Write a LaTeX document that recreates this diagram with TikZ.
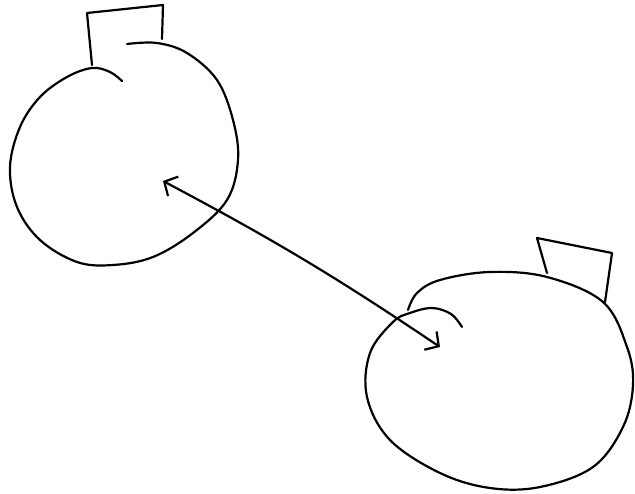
\documentclass[tikz,border=0pt]{standalone}
\usetikzlibrary{arrows.meta}
\begin{document}
\begin{tikzpicture}[x=1pt, y=-1pt, line width=2.2pt, line cap=round, line join=round,
  >={Straight Barb[length=10pt,width=22pt]}]
  \useasboundingbox (0,0) rectangle (635,494);
  % left jar
  \draw plot[smooth, tension=0.6] coordinates {(122,81) (110,72) (92,68) (67,77) (40,97) (20,127) (10,167) (17,207) (40,240) (77,262) (113,265) (153,257) (193,233) (227,200) (238,160) (233,120) (217,80) (187,53) (157,43) (127,44)};
  \draw (92,65) -- (87,13) -- (163,5) -- (162,39);
  % right jar
  \draw plot[smooth, tension=0.6] coordinates {(408,310) (417,293) (440,280) (490,272) (547,277) (603,302) (627,347) (633,385) (623,427) (593,467) (540,487) (490,488) (440,473) (390,440) (367,397) (370,353) (393,322) (410,313) (432,308) (451,314) (462,327)};
  \draw (547,273) -- (537,238) -- (612,253) -- (605,302);
  % link
  \coordinate (jarA) at (163,181);
  \coordinate (jarB) at (440,347);
  \draw[<->] (jarA) to[bend left=3] (jarB);
\end{tikzpicture}
\end{document}
